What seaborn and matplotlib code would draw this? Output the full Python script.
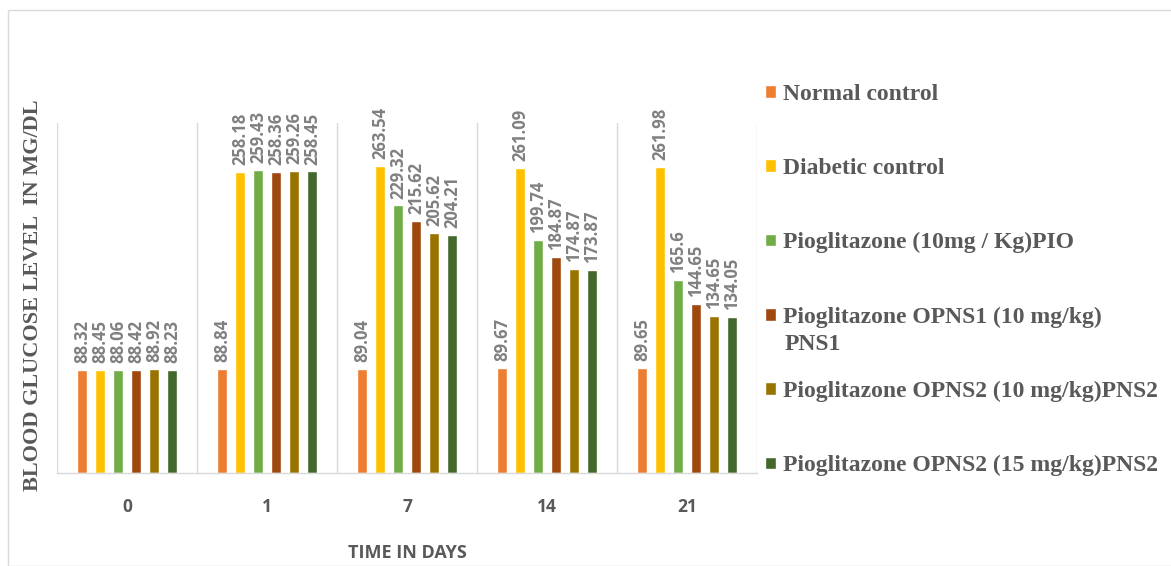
import matplotlib
matplotlib.use("Agg")
import matplotlib.pyplot as plt
import seaborn as sns
import pandas as pd
from matplotlib.patches import Rectangle

days = ["0", "1", "7", "14", "21"]
groups = [
    "Normal control",
    "Diabetic control",
    "Pioglitazone (10mg / Kg)PIO",
    "Pioglitazone OPNS1 (10 mg/kg)",
    "Pioglitazone OPNS2 (10 mg/kg)PNS2",
    "Pioglitazone OPNS2 (15 mg/kg)PNS2",
]
pns1_label_cont = "PNS1"
normal_control = [88.32, 88.84, 89.04, 89.67, 89.65]
diabetic_control = [88.45, 258.18, 263.54, 261.09, 261.98]
pio = [88.06, 259.43, 229.32, 199.74, 165.6]
pns1 = [88.42, 258.36, 215.62, 184.87, 144.65]
pns2_10 = [88.92, 259.26, 205.62, 174.87, 134.65]
pns2_15 = [88.23, 258.45, 204.21, 173.87, 134.05]
colors = ["#ED7D31", "#FFC000", "#70AD47", "#9E480E", "#997300", "#43682B"]

series = [normal_control, diabetic_control, pio, pns1, pns2_10, pns2_15]
rows = []
for g, vals in zip(groups, series):
    for d, v in zip(days, vals):
        rows.append({"day": d, "group": g, "value": v})
df = pd.DataFrame(rows)

sns.set_style("white")
fig = plt.figure(figsize=(11.71, 5.66), dpi=100)
ax = fig.add_axes([57 / 1171, 93 / 566, 700 / 1171, 350 / 566])

sns.barplot(data=df, x="day", y="value", hue="group", order=days,
            hue_order=groups, palette=colors, width=0.77, gap=0.45,
            ax=ax, errorbar=None, saturation=1)

for cont in ax.containers:
    ax.bar_label(cont, labels=[f"{v:g}" for v in cont.datavalues],
                 rotation=90, padding=5, color="#808080",
                 fontsize=12, fontweight="bold", family="Open Sans")

ax.set_ylim(0, 300)
ax.set_xlim(-0.5, 4.5)
ax.set_yticks([])
for sp in ["top", "right", "left"]:
    ax.spines[sp].set_visible(False)
ax.spines["bottom"].set_color("#D9D9D9")
ax.spines["bottom"].set_linewidth(1)
for xb in [-0.5, 0.5, 1.5, 2.5, 3.5, 4.5]:
    ax.axvline(xb, color="#D9D9D9", lw=1, zorder=0)

ax.tick_params(axis="x", length=0, pad=18)
for lbl in ax.get_xticklabels():
    lbl.set_fontfamily("Open Sans")
    lbl.set_fontweight("bold")
    lbl.set_fontsize(12.5)
    lbl.set_color("#595959")

ax.set_xlabel("TIME IN DAYS", family="Open Sans", fontweight="bold",
              fontsize=13, color="#595959", labelpad=20)
ax.set_ylabel("")
fig.text(33 / 1171, 1 - 295 / 566, "BLOOD GLUCOSE LEVEL  IN MG/DL", rotation=90,
         ha="center", va="center", family="Liberation Serif",
         fontweight="bold", fontsize=16, color="#595959")

handles, labels = ax.get_legend_handles_labels()
ax.legend(handles, labels, loc="upper left",
          bbox_to_anchor=(765 / 1171, 1 - 84 / 566),
          bbox_transform=fig.transFigure, frameon=False,
          prop={"family": "Liberation Serif", "weight": "bold", "size": 17},
          labelcolor="#595959", handlelength=0.45, handleheight=0.45,
          handletextpad=0.3, labelspacing=2.25, borderpad=0, borderaxespad=0)
fig.text(785 / 1171, 1 - 345 / 566, pns1_label_cont, ha="left", va="center",
         family="Liberation Serif", fontweight="bold", fontsize=17,
         color="#595959")

fig.patches.append(Rectangle((8 / 1171, 0), 1.2, 1 - 10 / 566,
                             transform=fig.transFigure, fill=False,
                             edgecolor="#D9D9D9", lw=1))

fig.savefig("out.png", dpi=100)
